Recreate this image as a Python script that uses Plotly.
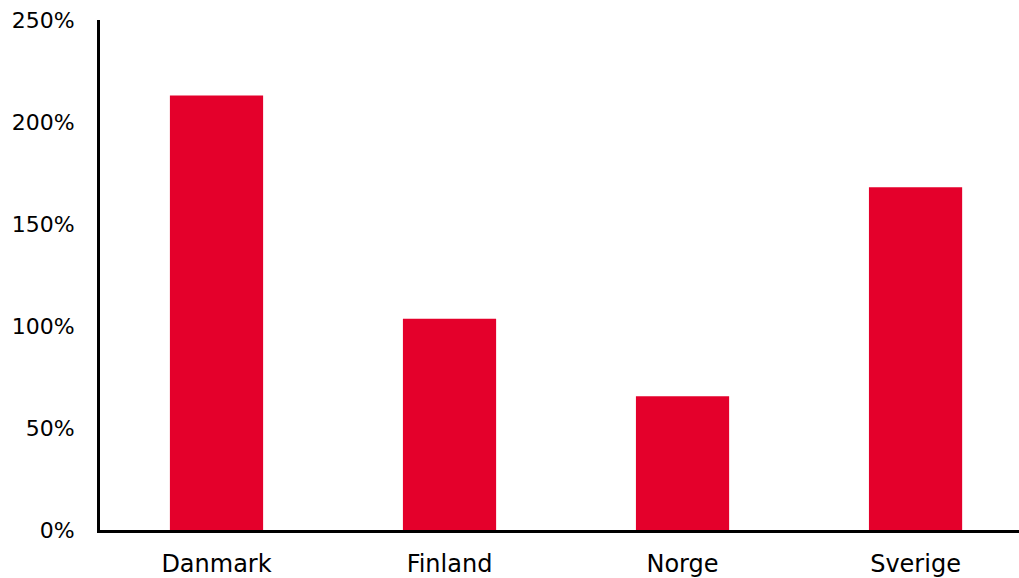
import plotly.graph_objects as go

categories = ["Danmark", "Finland", "Norge", "Sverige"]
values = [213, 103.6, 65.6, 168]
y_ticks = [0, 50, 100, 150, 200, 250]
y_tick_labels = ["0%", "50%", "100%", "150%", "200%", "250%"]

fig = go.Figure(go.Bar(
    x=categories, y=values, marker_color="#E4002B", width=0.4,
    marker_line_width=0,
))

font_family = "'DejaVu Sans', sans-serif"
fig.update_layout(
    width=1019, height=578,
    margin=dict(l=100, r=0, t=20, b=48),
    paper_bgcolor="white", plot_bgcolor="white",
    showlegend=False,
    font=dict(family=font_family, color="#000000"),
    bargap=0.6,
)
fig.update_xaxes(
    range=[-0.5, 3.444], showgrid=False, showline=True, linecolor="black",
    linewidth=3, ticks="", tickfont=dict(size=24), ticklabelstandoff=10,
    zeroline=False, automargin=False,
)
fig.update_yaxes(
    range=[0, 250], tickvals=y_ticks, ticktext=y_tick_labels,
    showgrid=False, showline=True, linecolor="black", linewidth=3, ticks="",
    tickfont=dict(size=22), ticklabelstandoff=18, zeroline=False,
    automargin=False,
)
fig.write_html("out.html")
